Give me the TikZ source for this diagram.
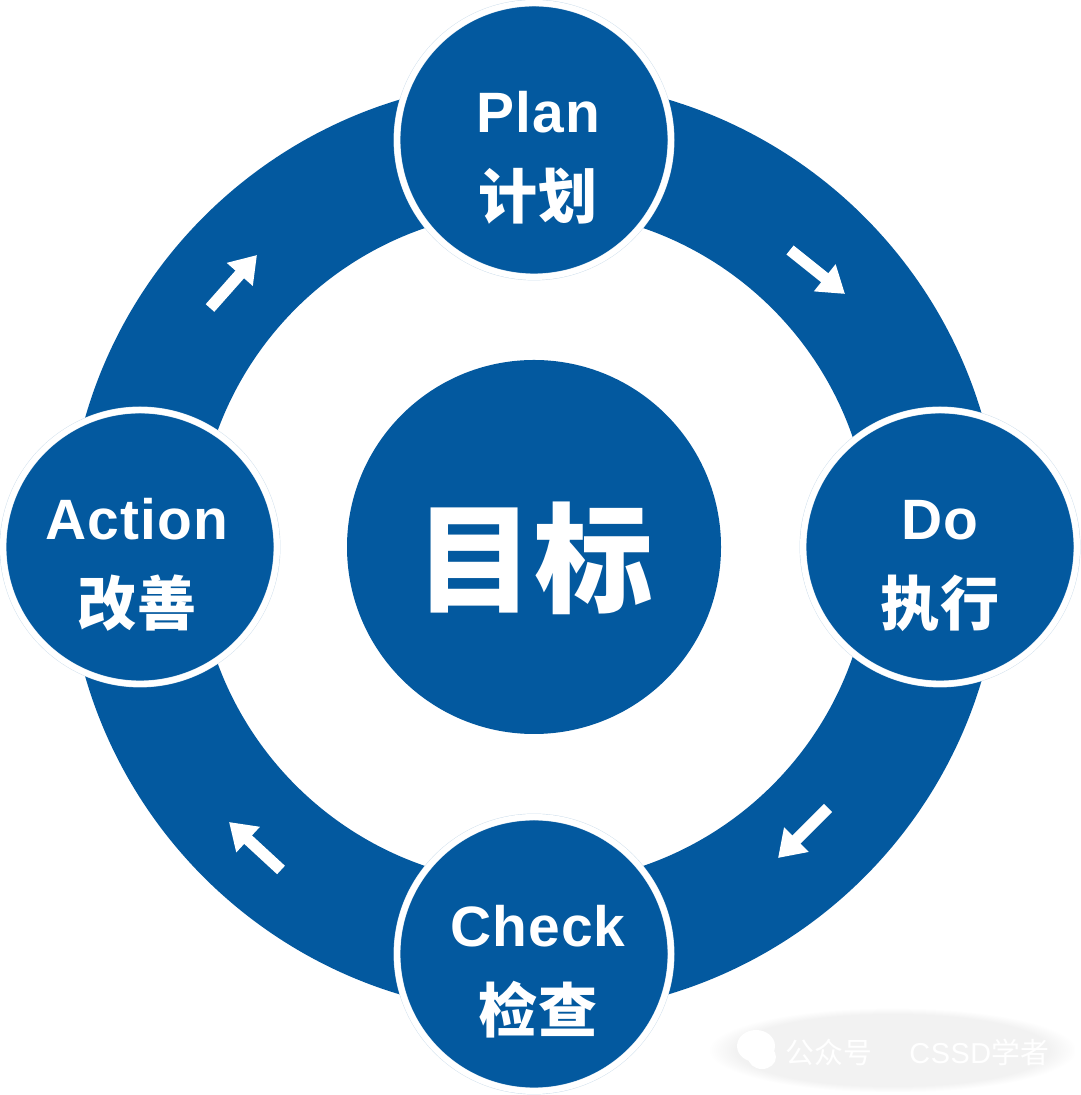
\documentclass[tikz,border=0pt]{standalone}
\usepackage{fontspec}
\setmainfont{Liberation Sans}[LetterSpace=2]
\newfontfamily\cjk{Noto Sans CJK SC}
\usetikzlibrary{arrows.meta,fadings}
\definecolor{pdcablue}{HTML}{03599F}
\newcommand{\cn}[1]{{\cjk\fontsize{16.8}{24.5}\selectfont #1}}
\newcommand{\stagetext}[2]{\rule{0pt}{0.77cm}#1\\#2}

\begin{document}
\begin{tikzpicture}[
        stage/.style={circle,fill=pdcablue,draw=pdcablue!20,line width=0.12pt,double=white,double distance=0.06cm,
            minimum size=2.74cm,inner sep=0pt,text=white,align=center,font=\fontsize{16.2}{24.5}\selectfont\bfseries},
        flow/.style={draw=white,line width=0.115cm,-{Triangle[length=0.26cm,width=0.33cm]}},
        wmtext/.style={text=white,font=\fontsize{8.2}{10}\selectfont}
    ]
            \useasboundingbox (0,0) rectangle (10.8,10.95);
            \fill[white] (0,0) rectangle (10.8,10.95);

            % ring and goal
            \fill[pdcablue,even odd rule] (5.34,5.48) circle (4.67) circle (3.37);
            \node[circle,fill=pdcablue,minimum size=3.74cm,inner sep=0pt,text=white,
                font=\fontsize{33.8}{36}\selectfont\cjk\bfseries] (goal) at (5.34,5.48) {\rule{0pt}{1.25cm}目标};

            % stages
            \node[stage] (plan) at (5.34,9.55) {\stagetext{\hspace*{0.08cm}Plan}{\hspace*{0.08cm}\cn{计划}}};
            \node[stage] (do) at (9.40,5.48) {\stagetext{Do}{\cn{执行}}};
            \node[stage] (check) at (5.34,1.41) {\stagetext{\hspace*{0.08cm}Check}{\hspace*{0.08cm}\cn{检查}}};
            \node[stage] (action) at (1.40,5.48) {\stagetext{Action\hspace*{0.06cm}}{\cn{改善}\hspace*{0.06cm}}};

            % arrows on the ring
            \coordinate (pdstart) at (7.90,8.45);
            \coordinate (pdend) at (8.45,8.01);
            \draw[flow] (pdstart) -- (pdend);
            \coordinate (dcstart) at (8.28,2.87);
            \coordinate (dcend) at (7.78,2.37);
            \draw[flow] (dcstart) -- (dcend);
            \coordinate (castart) at (2.81,2.25);
            \coordinate (caend) at (2.29,2.73);
            \draw[flow] (castart) -- (caend);
            \coordinate (apstart) at (2.10,7.87);
            \coordinate (apend) at (2.57,8.40);
            \draw[flow] (apstart) -- (apend);

            % watermark
            \fill[black!5,path fading=circle with fuzzy edge 15 percent] (7.10,0.03) rectangle (10.75,0.87);
            \fill[white] (7.56,0.49) ellipse (0.19 and 0.16);
            \fill[white] (7.62,0.38) ellipse (0.14 and 0.12);
            \node[wmtext,anchor=west] (wechat) at (7.73,0.43) {\cjk 公众号};
            \node[wmtext,anchor=west] (scholar) at (8.97,0.43) {CSSD\cjk 学者};
\end{tikzpicture}
\end{document}
